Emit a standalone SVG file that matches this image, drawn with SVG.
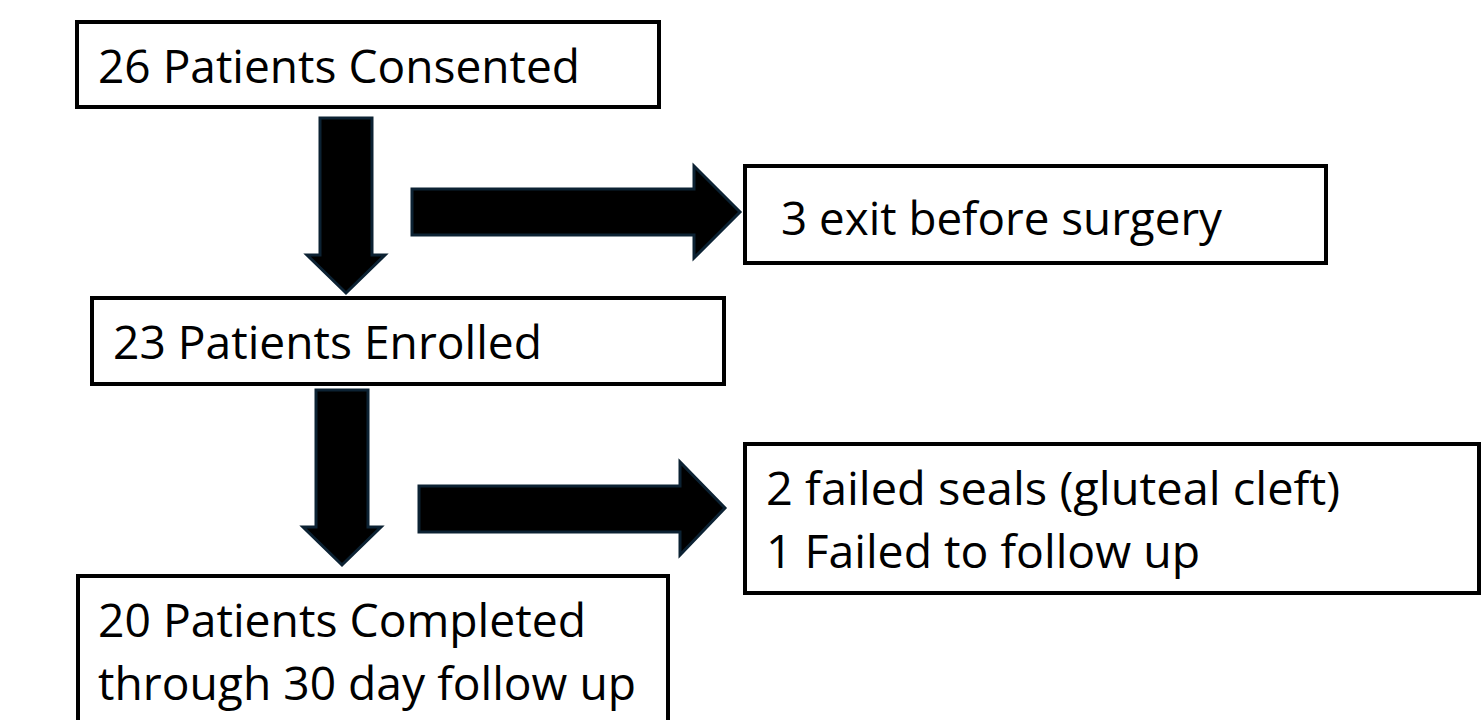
<svg xmlns="http://www.w3.org/2000/svg" width="1483" height="720" viewBox="0 0 1483 720">
<style>
.box{fill:#fff;stroke:#000;stroke-width:4}
.arr{fill:#000;stroke:#0c2233;stroke-width:3;stroke-linejoin:miter}
.t{font-family:"Open Sans","Noto Sans",sans-serif;font-size:45px;fill:#000}
</style>
<rect width="1483" height="720" fill="#fff"/>
<g id="connectors">
<polygon class="arr" points="320,118 372,118 372,255 385,255 346,293 307,255 320,255"/>
<polygon class="arr" points="412,189 694,189 694,166 740,212 694,258 694,235 412,235"/>
<polygon class="arr" points="316,390 368,390 368,527 381,527 342,565 303,527 316,527"/>
<polygon class="arr" points="419,486 680,486 680,462 725,508 680,555 680,532 419,532"/>
</g>
<g id="n1">
<rect class="box" x="77" y="22" width="582" height="85"/>
<text class="t" x="98" y="83" textLength="482" lengthAdjust="spacingAndGlyphs">26 Patients Consented</text>
</g>
<g id="n2">
<rect class="box" x="745" y="166" width="581" height="97"/>
<text class="t" x="781" y="235" textLength="441" lengthAdjust="spacingAndGlyphs">3 exit before surgery</text>
</g>
<g id="n3">
<rect class="box" x="92" y="298" width="632" height="86"/>
<text class="t" x="113" y="359" textLength="429" lengthAdjust="spacingAndGlyphs">23 Patients Enrolled</text>
</g>
<g id="n4">
<rect class="box" x="745" y="444" width="734" height="149"/>
<text class="t" x="766" y="505" textLength="574" lengthAdjust="spacingAndGlyphs">2 failed seals (gluteal cleft)</text>
<text class="t" x="766" y="568" textLength="434" lengthAdjust="spacingAndGlyphs">1 Failed to follow up</text>
</g>
<g id="n5">
<rect class="box" x="78" y="576" width="590" height="160"/>
<text class="t" x="98" y="637" textLength="488" lengthAdjust="spacingAndGlyphs">20 Patients Completed</text>
<text class="t" x="98" y="700" textLength="538" lengthAdjust="spacingAndGlyphs">through 30 day follow up</text>
</g>
</svg>
